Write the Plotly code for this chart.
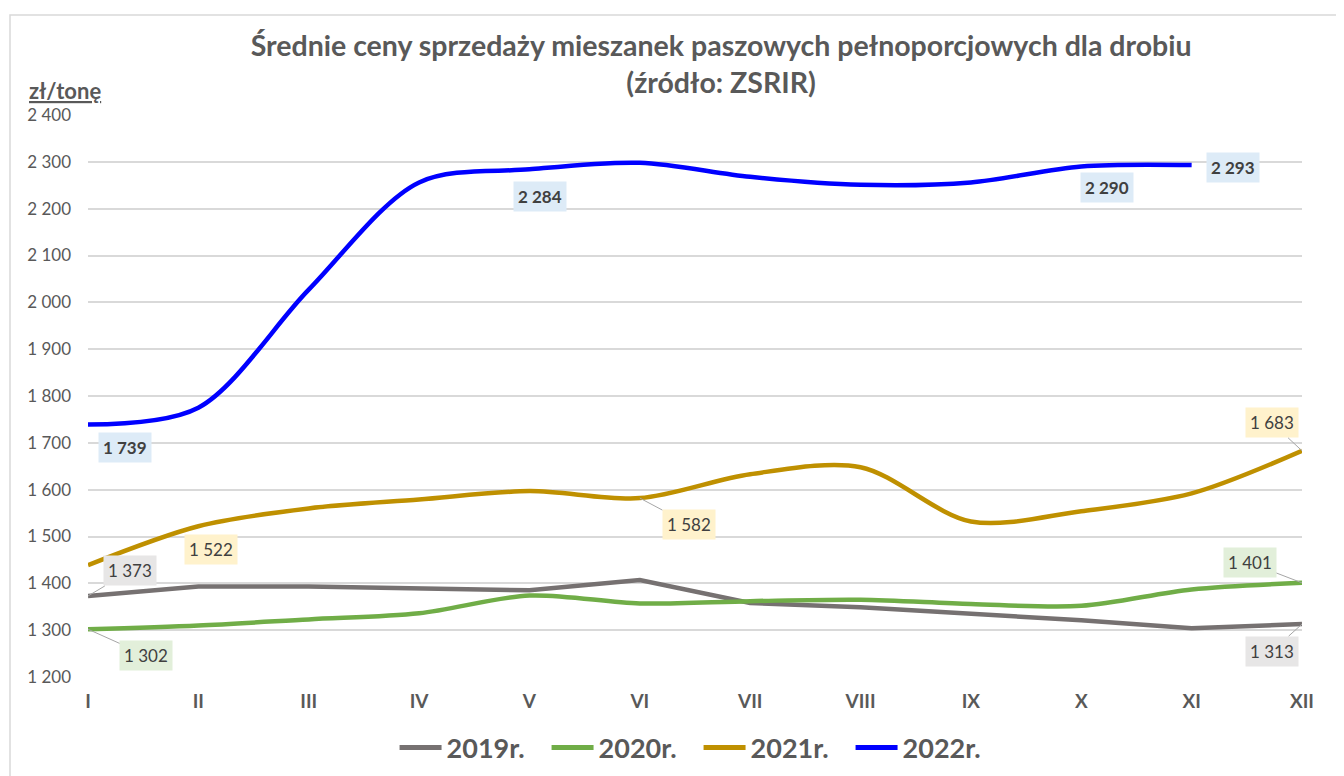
import plotly.graph_objects as go

months = ["I", "II", "III", "IV", "V", "VI", "VII", "VIII", "IX", "X", "XI", "XII"]
y2019 = [1373, 1393, 1393, 1389, 1385, 1407, 1358, 1349, 1336, 1321, 1304, 1313]
y2020 = [1302, 1310, 1323, 1336, 1374, 1357, 1362, 1365, 1356, 1352, 1387, 1401]
y2021 = [1439, 1522, 1560, 1579, 1597, 1582, 1633, 1648, 1532, 1554, 1592, 1683]
y2022 = [1739, 1775, 2027, 2256, 2284, 2298, 2268, 2251, 2256, 2290, 2293]

series_names = ["2019r.", "2020r.", "2021r.", "2022r."]
colors = ["#767171", "#70AD47", "#BF9000", "#0000FF"]
label_bg = ["#E7E6E6", "#E2EFDA", "#FFF2CC", "#DDEBF7"]

FONT = "Lato"
TXT = "#595959"

W, H = 1328, 776  # page body has an 8px margin

fig = go.Figure()
data = [y2019, y2020, y2021, y2022]
shapes_ = ["linear", "spline", "spline", "spline"]
for name, ys, c, sh in zip(series_names, data, colors, shapes_):
    fig.add_trace(go.Scatter(
        x=months[:len(ys)], y=ys, mode="lines", name=f"<b>{name}</b>",
        line=dict(color=c, width=4.5, shape=sh, smoothing=0.9),
        hoverinfo="skip"))

def fmt(v):
    return f"{v:,}".replace(",", " ")

# (series index, month index, ax, ay, bold, leader)
labels = [
    (3, 0, 37, 23, True, False),
    (3, 4, 11, 27, True, False),
    (3, 9, 26, 21, True, False),
    (3, 10, 41, 2, True, False),
    (2, 1, 13, 23, False, False),
    (2, 5, 49, 26, False, True),
    (2, 11, -30, -28, False, True),
    (0, 0, 42, -25, False, True),
    (1, 0, 58, 26, False, True),
    (1, 11, -52, -20, False, True),
    (0, 11, -30, 27, False, True),
]
for si, mi, ax, ay, bold, leader in labels:
    v = data[si][mi]
    t = fmt(v)
    fig.add_annotation(
        x=months[mi], y=v, xref="x", yref="y",
        text=f"<b>{t}</b>" if bold else t,
        showarrow=True, arrowhead=0, arrowwidth=1,
        arrowcolor="#A6A6A6" if leader else "rgba(0,0,0,0)",
        ax=ax, ay=ay, standoff=0,
        bgcolor=label_bg[si], borderpad=4,
        font=dict(family=FONT, size=17, color="#404040"),
    )

fig.add_annotation(
    text="<b><u>zł/tonę</u></b>", xref="paper", yref="paper",
    x=-0.019, y=1.0, xanchor="center", yanchor="middle", yshift=25,
    showarrow=False, font=dict(family=FONT, size=22, color=TXT))

fig.update_layout(
    width=W, height=H,
    margin=dict(l=80, r=34, t=107, b=H - 669),
    paper_bgcolor="white", plot_bgcolor="white",
    separators=". ",
    title=dict(
        text="<b>Średnie ceny sprzedaży mieszanek paszowych pełnoporcjowych dla drobiu<br>(źródło: ZSRIR)</b>",
        x=0.537, xanchor="center", xref="container",
        y=1 - 48 / H, yanchor="middle", yref="container",
        font=dict(family=FONT, size=28.5, color=TXT)),
    xaxis=dict(
        type="category", range=[0, 11], showgrid=False, zeroline=False,
        showline=False, ticks="", ticklabelstandoff=11,
        tickfont=dict(family=FONT, size=19, color=TXT),
        tickprefix="<b>", ticksuffix="</b>"),
    yaxis=dict(
        range=[1200, 2400], dtick=100, tickformat=",d",
        showgrid=True, gridcolor="#D9D9D9", gridwidth=1.5,
        zeroline=False, showline=False, ticks="",
        ticklabelstandoff=16,
        tickfont=dict(family=FONT, size=17, color=TXT)),
    legend=dict(
        orientation="h", xref="container", yref="container",
        x=0.52, xanchor="center", y=1 - 740 / H, yanchor="middle",
        font=dict(family=FONT, size=27, color=TXT),
        itemwidth=42, itemsizing="constant", entrywidth=95,
        bgcolor="rgba(0,0,0,0)"),
    shapes=[dict(type="rect", xref="paper", yref="paper",
                 x0=(2 - 80) / 1214, x1=1.1, y0=-0.3, y1=1 + 100 / 562,
                 line=dict(color="#D9D9D9", width=1.5), layer="below")],
    showlegend=True,
)

fig.write_html("out.html")
